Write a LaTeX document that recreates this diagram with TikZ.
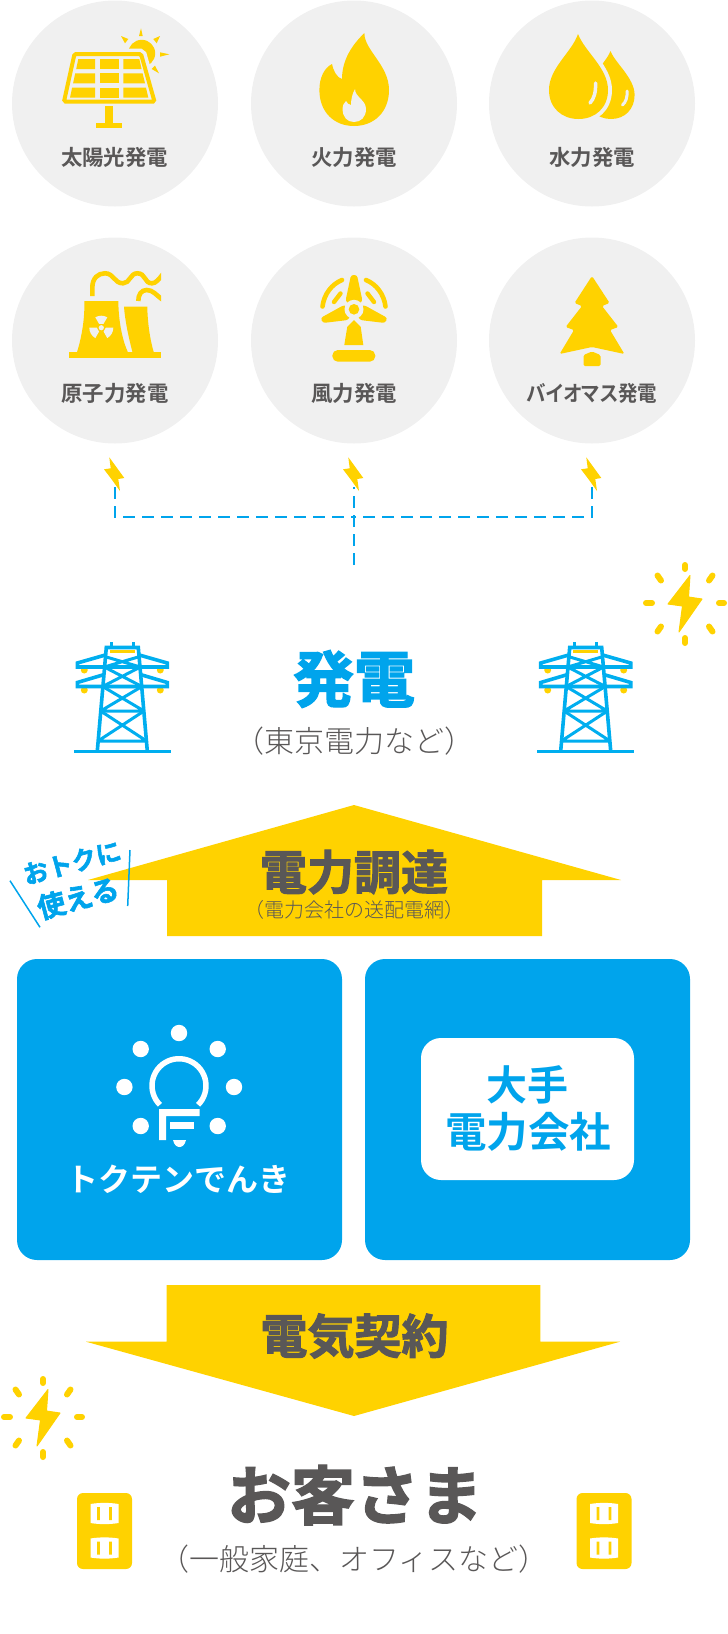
\documentclass[tikz,border=0pt]{standalone}
\usepackage{fontspec}
\usetikzlibrary{positioning}
\newfontfamily\jpbold{Noto Sans CJK JP Bold}
\newfontfamily\jppalt[RawFeature={+palt}]{Noto Sans CJK JP Bold}
\newfontfamily\jpheavy[FakeBold=2.2]{Noto Sans CJK JP Bold}
\newfontfamily\jplight{Noto Sans CJK JP Light}
\definecolor{tkblue}{RGB}{0,164,236}
\definecolor{towerblue}{RGB}{0,174,239}
\definecolor{tkyellow}{RGB}{255,210,0}
\definecolor{tkgray}{RGB}{89,87,87}
\definecolor{discgray}{RGB}{240,240,240}
\tikzset{
  plantdisc/.style={circle,fill=discgray,minimum size=206pt,inner sep=0pt},
  plantlabel/.style={font=\jppalt\fontsize{21.4}{21}\selectfont,text=tkgray,inner sep=0pt},
  bluebox/.style={fill=tkblue,rounded corners=20pt,minimum width=325pt,minimum height=301pt,inner sep=0pt},
  whitebox/.style={fill=white,rounded corners=20pt,minimum width=213pt,minimum height=142pt,inner sep=0pt},
  bigtitle/.style={font=\jpheavy\fontsize{61}{61}\selectfont,inner sep=0pt},
  arrowtitle/.style={font=\jpheavy\fontsize{47}{47}\selectfont,text=tkgray,inner sep=0pt},
  subtitle/.style={font=\jplight\fontsize{30}{30}\selectfont,text=tkgray,inner sep=0pt},
  offerlabel/.style={font=\jpheavy,text=tkblue,rotate=15,inner sep=0pt},
  busline/.style={tkblue,line width=2pt,dash pattern=on 12pt off 7pt},
  towerline/.style={towerblue,line width=3.6pt},
  rayline/.style={tkyellow,line width=6pt,line cap=round},
  discline/.style={discgray,line cap=round},
  % small bolt above the dashed bus
  tinybolt/.pic={
    \fill[tkyellow] (-5.7,457.3) -- (9.3,478) -- (3.3,479) -- (5,491) -- (-4,478.5) -- (-11,469.3) -- (-4.3,468.3) -- cycle;
  },
  % bolt with rays, drawn round its centre
  sparkbolt/.pic={
    \filldraw[tkyellow,line width=1pt,line join=round] (5,-27.5) -- (-17,1) -- (-2.5,3) -- (-6,29) -- (17,-4) -- (3.5,-6) -- cycle;
    \draw[rayline] (0,-38) -- (0,-34) (0,35) -- (0,40) (-39,0) -- (-33,0) (34,0) -- (39,0);
    \draw[rayline] (-27.5,-27.5) -- (-24,-22.5) (27.5,-27.5) -- (24,-22.5) (-24,23.5) -- (-27.5,28.5) (24,23.5) -- (27.5,28.5);
  },
  % tower, x round its axis, y as on the page
  pylon/.pic={
    \fill[tkyellow] (-38,670) circle (3.5) (38,670) circle (3.5) (-38,690) circle (3.5) (38,690) circle (3.5);
    \draw[towerline] (-48.3,751.3) -- (48.3,751.3);
    \draw[towerline] (-25,751) -- (-16,647.5) -- (16,647.5) -- (25,751);
    \draw[towerline,line width=3pt] (-10.8,642) -- (-10.8,647) (10.8,642) -- (10.8,647);
    \draw[towerline] (-17,655) -- (-45,663) -- (-45,667) -- (45,667) -- (45,663) -- (17,655);
    \draw[towerline] (-18,674.5) -- (-45,682.5) -- (-45,686.5) -- (45,686.5) -- (45,682.5) -- (18,674.5);
    \foreach \ya/\wa/\yb/\wb in {656.7/16.9/667/18,667/18/686.5/19.6,686.5/19.6/711/21.7,711/21.7/741/24.3}
      \draw[towerline,line width=3pt] (-\wa,\ya) -- (\wb,\yb) (\wa,\ya) -- (-\wb,\yb) (-\wb,\yb) -- (\wb,\yb);
    \fill[tkyellow] (-12.5,650) rectangle (12.5,652.7);
  },
  % wall outlet
  outlet/.pic={
    \fill[tkyellow,rounded corners=6pt] (-27.5,1493) rectangle (27.5,1569);
    \foreach \dy in {0,34.5} {
      \fill[white,shift={(0,\dy)}] (-14,1504) .. controls (-5,1502.5) and (5,1502.5) .. (14,1504) -- (14,1523) .. controls (5,1524.5) and (-5,1524.5) .. (-14,1523) -- cycle;
      \fill[tkyellow,shift={(0,\dy)}] (-7.4,1507) rectangle (-4.6,1520) (4.6,1507) rectangle (7.4,1520);
    }
  },
}
\begin{document}
\begin{tikzpicture}[x=1pt,y=-1pt]
\useasboundingbox (0,0) rectangle (728,1634);
% Plant discs
\node[plantdisc] (solar) at (115,103.5) {};
\node[plantdisc] (fire) at (354,103.5) {};
\node[plantdisc] (water) at (592,103.5) {};
\node[plantdisc] (nuclear) at (115,340.5) {};
\node[plantdisc] (wind) at (354,340.5) {};
\node[plantdisc] (biomass) at (592,340.5) {};
\node[plantlabel] (solarname) at (114.5,157) {太陽光発電};
\node[plantlabel] (firename) at (354,157) {火力発電};
\node[plantlabel] (watername) at (592,157) {水力発電};
\node[plantlabel] (nuclearname) at (115,393.5) {原子力発電};
\node[plantlabel] (windname) at (354,393.5) {風力発電};
\node[plantlabel] (biomassname) at (592,393.5) {\scalebox{.91}[1]{バイオマス発電}};
% Solar panel
\fill[tkyellow] (141.7,53.3) circle (13.5);
\fill[tkyellow] (141,28.3) -- (139,36) -- (142.7,36) -- cycle;
\fill[tkyellow] (121,36) -- (125,43.3) -- (128.3,39) -- cycle;
\fill[tkyellow] (160,36) -- (153.3,39) -- (156.7,43.3) -- cycle;
\fill[tkyellow] (169.3,54.3) -- (160,52.3) -- (160,56.7) -- cycle;
\fill[tkyellow] (159,73.3) -- (151.7,69) -- (155,65.7) -- cycle;
\draw[tkyellow,line width=4pt,rounded corners=1.5pt,preaction={draw=discgray,fill=discgray,line width=11pt}] (74.5,54) -- (141,54) -- (154.5,101.5) -- (64,101.5) -- cycle;
\foreach \yt/\yb/\xa/\xb/\xc/\xd in {59/69/78.3/76.2/139.3/141.6,73.3/83.3/75.2/73.1/142.6/145,87.7/97.7/72.1/70/146/148.3} {
  \fill[tkyellow] (\xa,\yt) -- (95,\yt) -- (95,\yb) -- (\xb,\yb) -- cycle;
  \fill[tkyellow] (100,\yt) rectangle (119.3,\yb);
  \fill[tkyellow] (123.3,\yt) -- (\xc,\yt) -- (\xd,\yb) -- (123.3,\yb) -- cycle;
}
\fill[tkyellow] (105,106) rectangle (112.7,123.3);
\fill[tkyellow] (96,122.7) rectangle (122.3,127.7);
% Flame
\fill[tkyellow] (364.4,33) .. controls (364,50) and (389,65) .. (389,90) .. controls (389,112) and (374,126) .. (354,126) .. controls (334,126) and (319.4,112) .. (319.4,90) .. controls (319.4,78) and (324,68) .. (332,64) .. controls (333,70) and (337,78) .. (342,79) .. controls (342,60) and (352,45) .. (364.4,33) -- cycle;
\fill[discgray] (355,89) .. controls (355,97) and (366,100) .. (366,109) .. controls (366,117) and (361,122) .. (354,122) .. controls (347,122) and (342.6,117) .. (342.6,109) .. controls (342.6,105) and (344,103) .. (346,101) .. controls (347,103) and (349,105) .. (351,105) .. controls (351,100) and (352,94) .. (355,89) -- cycle;
% Drops
\fill[tkyellow] (610.5,51) .. controls (606,63) and (587,78) .. (587,95) .. controls (587,109) and (597,119) .. (611,119) .. controls (625,119) and (634.6,109) .. (634.6,95) .. controls (634.6,78) and (615,63) .. (610.5,51) -- cycle;
\fill[tkyellow,preaction={draw=discgray,line width=8pt}] (578,34) .. controls (572,52) and (549,68) .. (549,90) .. controls (549,108) and (562,119) .. (578.5,119) .. controls (595,119) and (608,108) .. (608,90) .. controls (608,68) and (585,52) .. (578,34) -- cycle;
\draw[discline,line width=3.5pt] (595.5,83) .. controls (596,92) and (594,99) .. (590,103);
\draw[discline,line width=3pt] (627,91) .. controls (627.5,97) and (626,102) .. (622.5,105);
% Nuclear plant
\fill[tkyellow] (69,352.3) rectangle (161,357.7);
\fill[tkyellow] (84.3,301) -- (118.3,301) .. controls (118.5,320) and (122,340) .. (128.3,353) -- (76.7,353) .. controls (81,340) and (85,320) .. (84.3,301) -- cycle;
\fill[tkyellow] (124,306.7) -- (147.3,306.7) .. controls (147.5,322) and (150,340) .. (154,353) -- (132.7,353) .. controls (128,335) and (125,320) .. (124,306.7) -- cycle;
\foreach \a in {270,30,150}
  \fill[discgray,shift={(101.3,327.7)}] (\a-30:4.5) -- (\a-30:12) -- (\a-15:12) -- (\a:12) -- (\a+15:12) -- (\a+30:12) -- (\a+30:4.5) -- cycle;
\fill[discgray] (101.3,327.7) circle (2.6);
\begin{scope}
\clip (60,260) rectangle (161,310);
\draw[tkyellow,line width=4.6pt] (92.3,296) -- (92.3,288) .. controls (92.3,278) and (98,273.3) .. (105,273.3) .. controls (114,273.3) and (114,283.3) .. (123,283.3) .. controls (130,283.3) and (130,273.3) .. (137.3,273.3) .. controls (146,273.3) and (144,283.3) .. (152,283.3) .. controls (156,283.3) and (159,279) .. (163,274);
\draw[tkyellow,line width=4.6pt] (138.3,301) .. controls (138.3,295) and (141,290) .. (146.7,290) .. controls (153,290) and (156,295) .. (163,300);
\end{scope}
% Wind fan
\fill[tkyellow,rounded corners=2.5pt] (351,275) -- (357,275) -- (362.5,301) -- (354,309) -- (345.5,301) -- cycle;
\fill[tkyellow,rounded corners=2.5pt] (344,305) -- (320.5,318) -- (323,323) -- (348,320) -- (354,309) -- cycle;
\fill[tkyellow,rounded corners=2.5pt] (364,305) -- (387.5,318) -- (385,323) -- (360,320) -- (354,309) -- cycle;
\fill[discgray] (354,309.3) circle (9.5);
\fill[tkyellow] (354,309.3) circle (5.3);
\fill[tkyellow] (354,320) -- (360.7,326.7) -- (363.3,345) -- (344.3,345) -- (347.3,326.7) -- cycle;
\fill[tkyellow,rounded corners=5.5pt] (332.3,350) rectangle (375.3,361.7);
\draw[tkyellow,line width=4.6pt,line cap=round] (322.5,306.5) .. controls (324,294) and (332,284) .. (342,280);
\draw[tkyellow,line width=4.6pt,line cap=round] (385.5,306.5) .. controls (384,294) and (376,284) .. (366,280);
\draw[tkyellow,line width=4.4pt,line cap=round] (334,302) -- (340.5,293.5);
\draw[tkyellow,line width=4.4pt,line cap=round] (374,302) -- (367.5,293.5);
% Tree
\fill[tkyellow,rounded corners=1.5pt] (592,276) -- (609.6,303) -- (602,306) -- (618.4,327) -- (610,330) -- (624.4,354) -- (592,347) -- (559.6,354) -- (574,330) -- (565.6,327) -- (582,306) -- (574.5,303) -- cycle;
\fill[tkyellow,rounded corners=1.5pt] (583.5,355) -- (592,351.5) -- (600.5,355) -- (600.5,366) -- (583.5,366) -- cycle;
% Dashed bus to the plants
\coordinate (tapleft) at (115,487);
\coordinate (tapmid) at (354,487);
\coordinate (tapright) at (592,487);
\coordinate (busmid) at (354,517);
\coordinate (feedend) at (354,565);
\draw[busline] (tapleft) |- (busmid);
\draw[busline] (tapright) |- (busmid);
\draw[busline] (feedend) -- (tapmid);
\pic at (115,0) {tinybolt};
\pic at (354,0) {tinybolt};
\pic at (592,0) {tinybolt};
% Generation
\pic at (685,603) {sparkbolt};
\pic at (122.3,0) {pylon};
\pic at (585.7,0) {pylon};
\node[bigtitle,text=tkblue] (powergen) at (354,679) {発電};
\node[subtitle] (powergennote) at (354,741) {（東京電力など）};
% Up arrow
\fill[tkyellow] (354,805) -- (621,880) -- (542,880) -- (542,936) -- (167,936) -- (167,880) -- (88,880) -- cycle;
\node[arrowtitle] (procure) at (354,872) {電力調達};
\node[font=\jplight\fontsize{20}{20}\selectfont,text=tkgray,inner sep=0pt] (procurenote) at (354,910) {（電力会社の送配電網）};
\node[offerlabel,font=\jpheavy\fontsize{25}{25}\selectfont] (offertop) at (72,862.5) {おトクに};
\node[offerlabel,font=\jpheavy\fontsize{28}{28}\selectfont] (offerbottom) at (78,898) {使える};
\draw[tkblue,line width=1.5pt] (10,880.7) -- (40,927.3);
\draw[tkblue,line width=1.5pt] (130,850) -- (127.7,906);
% Retailers
\node[bluebox] (tokuten) at (179.5,1109.5) {};
\node[bluebox] (major) at (527.5,1109.5) {};
\node[whitebox] (majorinner) at (527.5,1109) {};
\node[font=\jpbold\fontsize{41}{41}\selectfont,text=tkblue,inner sep=0pt] (majorfirst) at (527,1085) {大手};
\node[font=\jpbold\fontsize{41.5}{41}\selectfont,text=tkblue,inner sep=0pt] (majorsecond) at (528,1132) {電力会社};
\node[font=\jpbold\fontsize{32}{32}\selectfont,text=white,inner sep=0pt] (tokutenname) at (178.5,1179) {トクテンでんき};
% Bulb logo
\foreach \dotx/\doty in {179/1033,140.7/1049,217.7/1049,124.4/1087,234/1087,140.7/1126,217.7/1126}
  \fill[white] (\dotx,\doty) circle (8.2);
\draw[white,line width=5.5pt] plot[domain=225:-45,samples=40] ({179+27*cos(\x)},{1085.7-27*sin(\x)});
\fill[white] (159,1109) -- (199.6,1109) -- (199.6,1116) -- (166,1116) -- (166,1140) -- (159,1140) -- cycle;
\fill[white] (170.4,1122) rectangle (194,1129);
\fill[white] (173,1140) -- (186,1140) .. controls (185,1145) and (182,1147) .. (179.5,1147) .. controls (177,1147) and (174,1145) .. (173,1140) -- cycle;
% Down arrow
\fill[tkyellow] (166.7,1285) -- (540.4,1285) -- (540.4,1341.7) -- (620,1341.7) -- (354,1416) -- (86,1341.7) -- (166.7,1341.7) -- cycle;
\node[arrowtitle] (contract) at (354.5,1336) {電気契約};
% Customers
\pic at (43,1417) {sparkbolt};
\pic at (104.5,0) {outlet};
\pic at (604,0) {outlet};
\node[bigtitle,text=tkgray,font=\jpheavy\fontsize{64}{64}\selectfont] (customer) at (355,1495) {お客さま};
\node[subtitle] (customernote) at (354,1559) {（一般家庭、オフィスなど）};
\end{tikzpicture}
\end{document}
